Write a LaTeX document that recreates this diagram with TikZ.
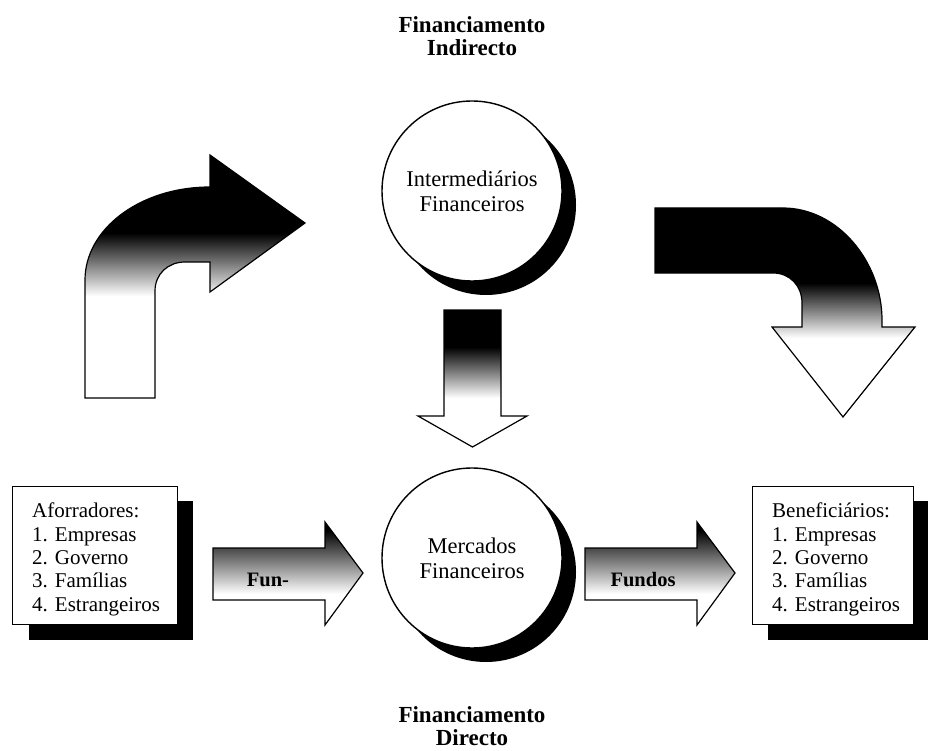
\documentclass[tikz,border=0pt]{standalone}
\usepackage{fontspec}
\setmainfont{Liberation Serif}
\begin{document}
\begin{tikzpicture}[x=1pt,y=-1pt,
  outline/.style={draw=black, line width=1.2pt, line join=miter},
  bubble/.style={circle, draw=black, line width=1.4pt, fill=white,
    minimum size=180pt, inner sep=0pt, align=center,
    font=\fontsize{22.5}{25}\selectfont},
  listbox/.style={draw=black, line width=1.1pt, fill=white, anchor=north west,
    inner sep=0pt, minimum width=163pt, minimum height=138pt},
  listtext/.style={anchor=north west, align=left, inner sep=0pt,
    font=\fontsize{21}{23.3}\selectfont},
  heading/.style={anchor=north, align=center, inner sep=0pt,
    font=\bfseries\fontsize{23}{23}\selectfont},
  flowlabel/.style={font=\bfseries\fontsize{20.5}{22}\selectfont, inner sep=0pt},
]
\useasboundingbox (0,0) rectangle (928,751);

% headings
\node[heading] (indirecto) at (472,16.5) {Financiamento\\Indirecto};
\node[heading] (directo) at (472,706.5) {Financiamento\\Directo};

% curved arrow rising from the savers
\def\leftarrowpath{(85,398) -- (85,280) .. controls (85,229) and (140,187) .. (210,187)
  -- (210,155) -- (305,223) -- (210,292) -- (210,262) -- (185,262)
  .. controls (168,262) and (155,274) .. (155,291) -- (155,398) -- cycle}
\begin{scope}
  \clip \leftarrowpath;
  \fill[black] (80,150) rectangle (310,233);
  \shade[top color=black, bottom color=white] (80,233) rectangle (310,296);
  \fill[white] (80,296) rectangle (310,400);
\end{scope}
\draw[outline] \leftarrowpath;

% curved arrow falling towards the beneficiaries
\def\rightarrowpath{(655,208) -- (783,208) .. controls (838,208) and (882,262) .. (882,320)
  -- (882,327) -- (915,327) -- (843,417) -- (772,327) -- (802,327) -- (802,303)
  .. controls (802,286) and (790,273) .. (773,273) -- (655,273) -- cycle}
\begin{scope}
  \clip \rightarrowpath;
  \fill[black] (650,200) rectangle (920,283);
  \shade[top color=black, bottom color=white] (650,283) rectangle (920,338);
  \fill[white] (650,338) rectangle (920,420);
\end{scope}
\draw[outline] \rightarrowpath;

% short arrow between the two circles
\def\downarrowpath{(444,310) -- (501,310) -- (501,416) -- (527,416) -- (472.5,447)
  -- (418,416) -- (444,416) -- cycle}
\begin{scope}
  \clip \downarrowpath;
  \fill[black] (410,305) rectangle (530,347);
  \shade[top color=black, bottom color=white] (410,347) rectangle (530,398);
  \fill[white] (410,398) rectangle (530,450);
\end{scope}
\draw[outline] \downarrowpath;

% circles with their shadows
\fill[black] (486,205) circle[radius=90];
\node[bubble] (interm) at (472,191) {Intermedi\'arios\\Financeiros};
\fill[black] (486,572) circle[radius=90];
\node[bubble] (mercados) at (472,558) {Mercados\\Financeiros};

% straight arrows of direct funding
\def\funarrow#1{(#1+0,548) -- (#1+112,548) -- (#1+112,522) -- (#1+150,573)
  -- (#1+112,625) -- (#1+112,600) -- (#1+0,600) -- cycle}
\begin{scope}
  \clip \funarrow{213};
  \fill[black] (200,515) rectangle (370,530);
  \shade[top color=black, bottom color=white] (200,530) rectangle (370,594);
  \fill[white] (200,594) rectangle (370,630);
\end{scope}
\draw[outline] \funarrow{213};
\node[flowlabel] (fun) at (268,580) {Fun-};
\begin{scope}
  \clip \funarrow{585};
  \fill[black] (575,515) rectangle (740,530);
  \shade[top color=black, bottom color=white] (575,530) rectangle (740,594);
  \fill[white] (575,594) rectangle (740,630);
\end{scope}
\draw[outline] \funarrow{585};
\node[flowlabel] (fundos) at (643,580) {Fundos};

% list boxes with drop shadows
\fill[black] (29,501) rectangle (193,640);
\node[listbox, minimum width=165pt] (aforr) at (12,486) {};
\node[listtext] (aforrtxt) at (32,503)
  {Aforradores:\\1. Empresas\\2. Governo\\3. Fam\'ilias\\4. Estrangeiros};

\fill[black] (768,501) rectangle (928,640);
\node[listbox, minimum width=161pt] (benef) at (752,486) {};
\node[listtext] (beneftxt) at (772,503)
  {Benefici\'arios:\\1. Empresas\\2. Governo\\3. Fam\'ilias\\4. Estrangeiros};
\end{tikzpicture}
\end{document}
